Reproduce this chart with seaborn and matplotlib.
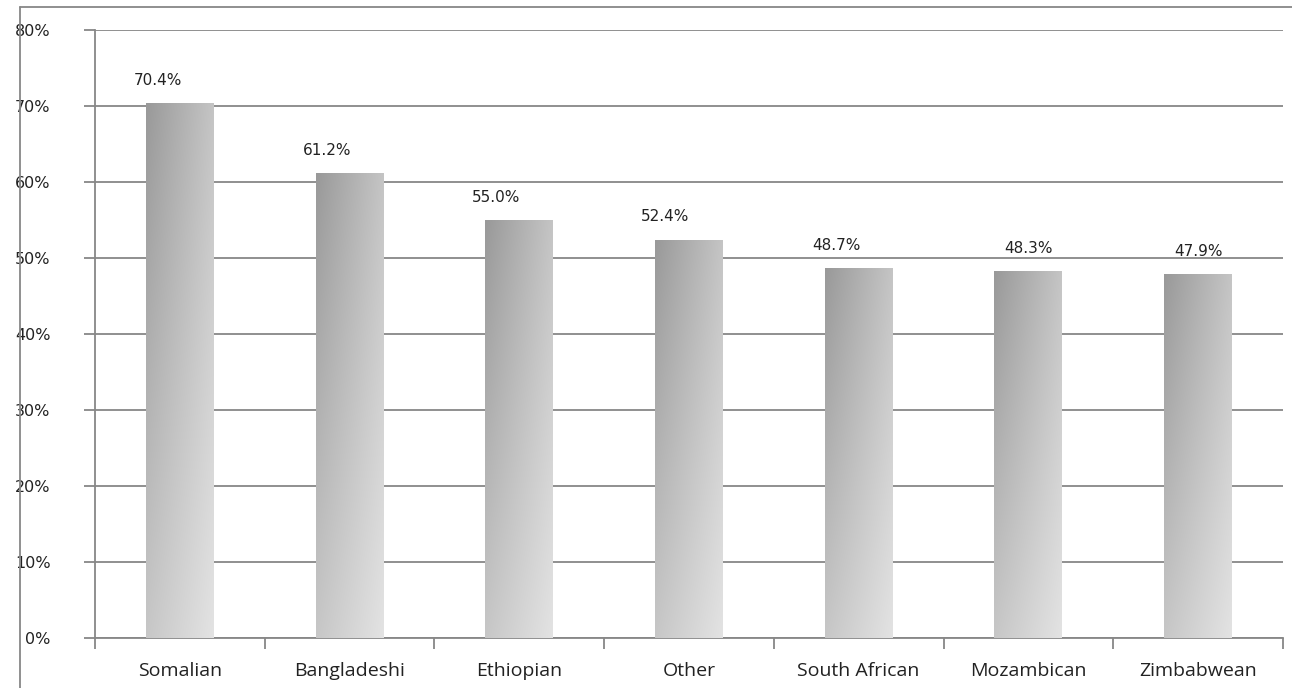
import numpy as np
import pandas as pd
import matplotlib
matplotlib.use("Agg")
import matplotlib.pyplot as plt
from matplotlib.lines import Line2D
from matplotlib.ticker import FixedLocator, FuncFormatter
import seaborn as sns

categories = ["Somalian", "Bangladeshi", "Ethiopian", "Other",
              "South African", "Mozambican", "Zimbabwean"]
values = [70.4, 61.2, 55.0, 52.4, 48.7, 48.3, 47.9]
y_ticks = [0, 10, 20, 30, 40, 50, 60, 70, 80]

sns.set_theme(style="white")
plt.rcParams["font.family"] = ["Open Sans", "DejaVu Sans"]

df = pd.DataFrame({"group": categories, "share": values})

fig = plt.figure(figsize=(12.92, 6.88), dpi=100)
ax = fig.add_axes([0.0735, 0.0727, 0.9195, 0.8837])

sns.barplot(data=df, x="group", y="share", order=categories,
            color="#b5b5b5", width=0.4, saturation=1, ax=ax, zorder=3)

# diagonal grey gradient painted inside each bar
grid_cols = np.linspace(0, 1, 64)
grid_rows = np.linspace(0, 1, 256)
gx, gy = np.meshgrid(grid_cols, grid_rows)
tl, tr, bl, br = 0.60, 0.77, 0.78, 0.89
shade = tl * (1 - gx) * (1 - gy) + tr * gx * (1 - gy) + bl * (1 - gx) * gy + br * gx * gy
rgb = np.dstack([shade, shade, shade])
for patch in ax.patches:
    x0, y0 = patch.get_x(), patch.get_y()
    w, h = patch.get_width(), patch.get_height()
    patch.set_facecolor("none")
    patch.set_edgecolor("none")
    img = ax.imshow(rgb, extent=[x0, x0 + w, y0, y0 + h], origin="upper",
                    aspect="auto", zorder=3, interpolation="bilinear")
    img.set_clip_path(patch)

# value labels; most sit a little left of their bar
label_shift = [-16, -16, -17, -17, -16, 0, 0]
texts = ax.bar_label(ax.containers[0], labels=[f"{v:.1f}%" for v in values],
                     padding=11, fontsize=11, color="#222222",
                     family=["DejaVu Sans"])
for t, dx in zip(texts, label_shift):
    t.xyann = (t.xyann[0] + dx, t.xyann[1])

ax.set_xlim(-0.5, len(categories) - 0.5)
ax.set_ylim(0, 80)
ax.yaxis.set_major_locator(FixedLocator(y_ticks))
ax.yaxis.set_major_formatter(FuncFormatter(lambda v, _: f"{v:.0f}%"))
ax.grid(axis="y", color="#878787", linewidth=1.3, zorder=1)
ax.grid(axis="x", visible=False)
ax.set_axisbelow(True)

ax.set_xlabel("")
ax.set_ylabel("")

for side in ["top", "right"]:
    ax.spines[side].set_visible(False)
for side in ["left", "bottom"]:
    ax.spines[side].set_color("#878787")
    ax.spines[side].set_linewidth(1.3)

ax.tick_params(axis="y", which="major", length=8, width=1.3, color="#878787",
               pad=24, labelsize=11.5, labelcolor="#222222", left=True)
for lbl in ax.get_yticklabels():
    lbl.set_family(["DejaVu Sans"])
ax.tick_params(axis="x", which="major", length=0, pad=17,
               labelsize=14, labelcolor="#222222")
ax.xaxis.set_minor_locator(FixedLocator(np.arange(-0.5, len(categories), 1.0)))
ax.tick_params(axis="x", which="minor", length=8, width=1.3,
               color="#878787", bottom=True)

# outer chart frame
fig.add_artist(Line2D([20 / 1292, 20 / 1292], [0, 1 - 7 / 688],
                      transform=fig.transFigure, color="#878787", linewidth=1.3))
fig.add_artist(Line2D([20 / 1292, 1], [1 - 7 / 688, 1 - 7 / 688],
                      transform=fig.transFigure, color="#878787", linewidth=1.3))

fig.savefig("out.png", dpi=100, facecolor="white")
